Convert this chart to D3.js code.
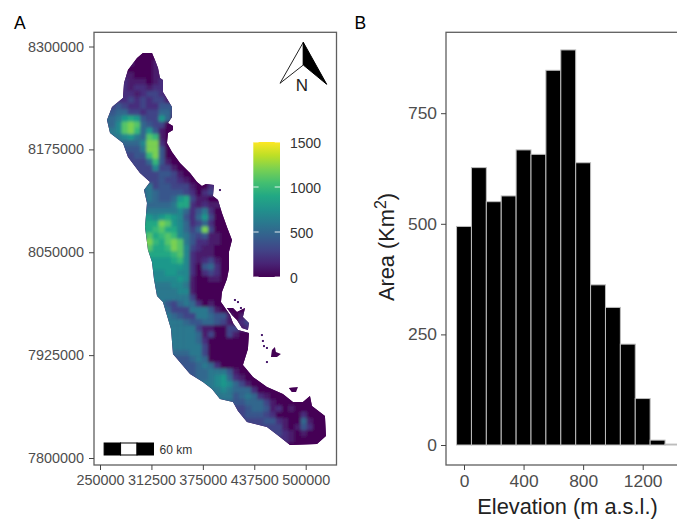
<!DOCTYPE html>
<html>
<head>
<meta charset="utf-8">
<script src="https://cdn.jsdelivr.net/npm/d3@7"></script>
<style>
  html, body { margin: 0; padding: 0; background: #fff; overflow: hidden; }
  text { font-family: "Liberation Sans", Arial, sans-serif; }
</style>
</head>
<body>
<div id="chart"></div>
<script>
// Panel B: histogram of elevation
const binCentres = [0, 100, 200, 300, 400, 500, 600, 700, 800, 900, 1000, 1100, 1200, 1300, 1400];
const binAreas = [494, 627, 550, 563, 667, 657, 847, 893, 638, 362, 311, 228, 105, 11, 2];
const elevationTicks = [0, 400, 800, 1200];
const areaTicks = [0, 250, 500, 750];

// Panel A: axis ticks and legend
const eastingTicks = [250000, 312500, 375000, 437500, 500000];
const northingTicks = [7800000, 7925000, 8050000, 8175000, 8300000];
const legendTicks = [0, 500, 1000, 1500];
const scaleBarKm = [0, 20, 40, 60];

// Panel A: elevation raster, 7.5 km cells, one hex digit per cell = hundreds of metres.
// Row i sits at rasterTopKm - 7.5 * i, first cell at column rowStart[i]. Km are
// counted east of 250000 and north of 7800000.
const rasterTopKm = 495;
const rasterCellKm = 7.5;
const rowStart = [7, 6, 5, 5, 4, 4, 4, 4, 3, 2, 2, 1, 1, 1, 2, 3, 4, 4, 5, 6, 7, 8, 7, 7, 7, 7, 7, 7, 7, 7, 7, 7, 7, 8, 8, 8, 9, 9, 9, 9, 10, 10, 10, 11, 11, 11, 12, 12, 12, 12, 12, 13, 14, 15, 16, 18, 19, 21, 22, 23, 24, 26, 28, 30, 30];
const rowElevation = [
  "00", "0000", "10001", "00001", "1100011", "2111012", "2122122", "22123321",
  "223232331", "3432232244", "45533233552", "556898433851", "557bcb543300", "667bca584100",
  "667865ba10", "55557cc20", "4446cc40", "3344ac400", "3335a4100", "333733100", "333443100",
  "334332100", "663443331002", "565444432023", "565445893110", "555556992121", "6666667524620",
  "8878987425830", "999cb875235200", "99ab997535c300", "9b9aba764341100",
  "bca9bcb64221100", "ab99acb73211000", "9999ab72111000", "88889a72123100", "88888872045200",
  "7788772023200", "7777871001100", "6667761000000", "666677100000", "66666300000",
  "64356520100", "653336664100000", "65433665441013", "66654455431023", "66666311003312",
  "6666513003100", "6666520000000", "6666630000000", "5556630000000", "444565000000",
  "44456520000", "44556664100", "45567852100", "56678753100", "66765552000", "6664565210000",
  "54455531000000", "33455412010000", "34443200002000", "33344210051000", "333310142000",
  "332101000", "2100000", "100000"
];

// Coast outline and islands, km east of 250000 / north of 7800000
const coastEast = [52.2, 63.2, 66.8, 70.5, 72.9, 76.5, 76.5, 80.2, 87.5, 87.5, 82.6, 88.7, 88.7, 82.6, 81.4, 87.5, 97.2, 109.4, 117.9, 123.9, 128.8, 138.5, 137.3, 143.4, 148.2, 154.3, 160.4, 156.7, 156.7, 154.3, 148.2, 147, 158, 161.6, 167.7, 181, 179.8, 173.7, 185.9, 202.9, 222.3, 234.5, 246.6, 255.2, 257.6, 273.4, 274.6, 263.7, 230.9, 218.7, 202.9, 178.6, 167.7, 161.6, 145.8, 136.1, 125.1, 109.4, 88.7, 86.3, 76.5, 69.3, 65.6, 63.2, 58.3, 54.7, 57.1, 53.5, 60.8, 48.6, 34, 27.9, 12.2, 8.5, 14.6, 27.9, 29.2, 34, 45];
const coastNorth = [492, 492, 483.6, 473.9, 461.7, 459.3, 444.7, 438.6, 426.5, 414.3, 407, 403.4, 398.5, 394.9, 382.7, 371.8, 358.4, 346.3, 335.3, 330.5, 332.9, 331.7, 318.3, 313.5, 297.7, 280.7, 264.9, 250.3, 229.6, 217.5, 201.7, 189.5, 173.7, 164, 155.5, 151.9, 132.4, 113, 98.4, 86.3, 77.8, 68, 68, 75.3, 63.2, 51, 26.7, 17, 15.8, 25.5, 37.7, 43.7, 57.1, 68, 71.7, 83.8, 92.3, 102.1, 126.4, 156.7, 189.5, 196.8, 217.5, 238.1, 252.7, 280.7, 309.8, 325.6, 335.3, 346.3, 365.7, 382.7, 394.9, 410.7, 426.5, 437.4, 455.6, 471.4, 486];
const islands = [
  [[154.3, 182.3], [161.6, 182.3], [166.5, 177.4], [176.2, 182.3], [173.7, 171.3], [181, 164], [179.8, 155.5], [172.5, 158], [166.5, 167.7], [160.4, 173.7]],
  [[209, 131.2], [212.6, 134.9], [213.8, 128.8], [219.9, 126.4], [215.1, 122.8], [207.8, 122.8]],
  [[229.6, 85], [240.6, 86.3], [238.2, 80.2], [233.3, 80.2]]
];
const islets = [[196.8, 149.4], [198, 142.2], [199.3, 136], [202.9, 133.7], [202.9, 116.6], [164, 192], [167.7, 189.5], [171.3, 182.3], [145.8, 325.6], [143.4, 302.5]];

const width = 677;
const height = 519;
const tickColor = "#4d4d4d";
const borderColor = "#5f5f5f";

const svg = d3.select("#chart").append("svg").attr("width", width).attr("height", height);
const defs = svg.append("defs");

const panelA = { left: 94, right: 336.5, top: 32.3, bottom: 465 };
const panelB = { left: 446, right: 700, top: 32.3, bottom: 465 };

const xMap = d3.scaleLinear().domain([250000, 500000]).range([100, 305.7]);
const yMap = d3.scaleLinear().domain([7800000, 8300000]).range([458, 46.5]);
const kmX = (km) => xMap(250000 + km * 1000);
const kmY = (km) => yMap(7800000 + km * 1000);
const elevationColor = d3.scaleSequential(d3.interpolateViridis).domain([0, 1500]);

// Raster cells, edges padded so the blur does not fade at the coast
const cells = [];
rowElevation.forEach((row, i) => {
  const values = row.split("").map((c) => parseInt(c, 16) * 100);
  const padded = [values[0], values[0], values[0], ...values, values[values.length - 1], values[values.length - 1], values[values.length - 1]];
  padded.forEach((value, j) => {
    cells.push({ col: rowStart[i] + j - 3, row: i, value });
  });
});

const outlinePath = d3.line().x((d) => kmX(d[0])).y((d) => kmY(d[1])).curve(d3.curveLinearClosed);
const coast = coastEast.map((e, i) => [e, coastNorth[i]]);
const landPaths = [coast, ...islands].map(outlinePath);

defs.append("clipPath").attr("id", "land").append("path").attr("d", landPaths.join(""));
const blur = defs.append("filter").attr("id", "soften").attr("x", "-5%").attr("y", "-5%").attr("width", "110%").attr("height", "110%");
blur.append("feGaussianBlur").attr("stdDeviation", 1.7);

const mapGroup = svg.append("g");
mapGroup.selectAll("path.land").data(landPaths).join("path").attr("class", "land").attr("d", (d) => d).attr("fill", elevationColor(0));
mapGroup.selectAll("rect.islet").data(islets).join("rect").attr("class", "islet")
  .attr("x", (d) => kmX(d[0]) - 1).attr("y", (d) => kmY(d[1]) - 1)
  .attr("width", 2).attr("height", 2).attr("fill", elevationColor(100));

mapGroup.append("g").attr("clip-path", "url(#land)")
  .append("g").attr("filter", "url(#soften)")
  .selectAll("rect").data(cells).join("rect")
  .attr("x", (d) => kmX((d.col - 0.5) * rasterCellKm))
  .attr("y", (d) => kmY(rasterTopKm - (d.row - 0.5) * rasterCellKm))
  .attr("width", kmX(rasterCellKm) - kmX(0) + 0.5)
  .attr("height", kmY(0) - kmY(rasterCellKm) + 0.5)
  .attr("fill", (d) => elevationColor(d.value));

// Colour bar
const legendY = d3.scaleLinear().domain([0, 1500]).range([277, 142]);
const gradient = defs.append("linearGradient").attr("id", "viridisBar").attr("x1", 0).attr("x2", 0).attr("y1", 1).attr("y2", 0);
d3.range(0, 1.001, 0.1).forEach((t) => {
  gradient.append("stop").attr("offset", t).attr("stop-color", d3.interpolateViridis(t));
});
svg.append("rect").attr("x", 253.3).attr("y", legendY(1500)).attr("width", 26.7)
  .attr("height", legendY(0) - legendY(1500)).attr("fill", "url(#viridisBar)");
const legendMarks = svg.append("g").selectAll("g").data(legendTicks).join("g");
legendMarks.append("line").attr("x1", 253.3).attr("x2", 258.6).attr("y1", legendY).attr("y2", legendY).attr("stroke", "#fff").attr("stroke-opacity", 0.85);
legendMarks.append("line").attr("x1", 274.7).attr("x2", 280).attr("y1", legendY).attr("y2", legendY).attr("stroke", "#fff").attr("stroke-opacity", 0.85);
legendMarks.append("text").attr("x", 290).attr("y", (d) => legendY(d) + 1).attr("dy", "0.35em")
  .attr("font-size", 14).attr("fill", "#333").text((d) => d);

// Scale bar
const barStart = 255000;
svg.append("g").selectAll("rect").data(d3.pairs(scaleBarKm)).join("rect")
  .attr("x", (d) => xMap(barStart + d[0] * 1000))
  .attr("y", 443)
  .attr("width", (d) => xMap(barStart + d[1] * 1000) - xMap(barStart + d[0] * 1000))
  .attr("height", 12)
  .attr("fill", (d, i) => (i === 1 ? "#fff" : "#000"))
  .attr("stroke", "#000")
  .attr("stroke-width", 1);
svg.append("text").attr("x", 159.5).attr("y", 449.5).attr("dy", "0.35em").attr("font-size", 12).attr("fill", "#333").text("60 km");

// North arrow
const arrow = svg.append("g");
arrow.append("path").attr("d", "M303.3,42.3 L280,83.3 L303.3,65 Z").attr("fill", "#fff").attr("stroke", "#222").attr("stroke-width", 1);
arrow.append("path").attr("d", "M303.3,42.3 L326.7,84.3 L303.3,65 Z").attr("fill", "#000").attr("stroke", "#000").attr("stroke-width", 1);
arrow.append("text").attr("x", 301.8).attr("y", 91).attr("text-anchor", "middle").attr("font-size", 17).attr("fill", "#222").text("N");

// Panel B bars
const xHist = d3.scaleLinear().domain([0, 1200]).range([464, 642.7]);
const yHist = d3.scaleLinear().domain([0, 750]).range([445, 113.2]);
const binWidth = xHist(100) - xHist(0);
svg.append("g").selectAll("rect").data(binCentres).join("rect")
  .attr("x", (d) => xHist(d) - binWidth / 2)
  .attr("y", (d, i) => yHist(binAreas[i]))
  .attr("width", binWidth)
  .attr("height", (d, i) => yHist(0) - yHist(binAreas[i]))
  .attr("fill", "#000")
  .attr("stroke", "#bdbdbd")
  .attr("stroke-width", 1);

// Panel borders
[panelA, panelB].forEach((p) => {
  svg.append("rect").attr("x", p.left).attr("y", p.top).attr("width", p.right - p.left).attr("height", p.bottom - p.top)
    .attr("fill", "none").attr("stroke", borderColor).attr("stroke-width", 1.3);
});

// Axes
function styleAxis(g, size) {
  g.select(".domain").remove();
  g.selectAll(".tick line").attr("stroke", "#444").attr("stroke-width", 1);
  g.selectAll(".tick text").attr("fill", tickColor).attr("font-size", size).attr("font-family", '"Liberation Sans", Arial, sans-serif');
}

svg.append("g").attr("transform", `translate(${panelA.left},0)`)
  .call(d3.axisLeft(yMap).tickValues(northingTicks).tickSize(5).tickPadding(5).tickFormat(d3.format("d")))
  .call(styleAxis, 14.4);
svg.append("g").attr("transform", `translate(0,${panelA.bottom})`)
  .call(d3.axisBottom(xMap).tickValues(eastingTicks).tickSize(5).tickPadding(5).tickFormat(d3.format("d")))
  .call(styleAxis, 14.4);
svg.append("g").attr("transform", `translate(${panelB.left},0)`)
  .call(d3.axisLeft(yHist).tickValues(areaTicks).tickSize(5).tickPadding(4).tickFormat(d3.format("d")))
  .call(styleAxis, 17.4);
svg.append("g").attr("transform", `translate(0,${panelB.bottom})`)
  .call(d3.axisBottom(xHist).tickValues(elevationTicks).tickSize(5).tickPadding(5).tickFormat(d3.format("d")))
  .call(styleAxis, 17.4);

// Titles
svg.append("text").attr("x", 567.5).attr("y", 514).attr("text-anchor", "middle").attr("font-size", 21.8).attr("fill", "#222").text("Elevation (m a.s.l.)");
const areaTitle = svg.append("text").attr("transform", "translate(394,247) rotate(-90)")
  .attr("text-anchor", "middle").attr("font-size", 21.8).attr("fill", "#222");
areaTitle.append("tspan").text("Area (Km");
areaTitle.append("tspan").attr("dy", -8).attr("font-size", 16).text("2");
areaTitle.append("tspan").attr("dy", 8).text(")");

svg.append("text").attr("x", 14).attr("y", 29).attr("font-size", 17.5).attr("fill", "#000").text("A");
svg.append("text").attr("x", 354.5).attr("y", 29).attr("font-size", 17.5).attr("fill", "#000").text("B");
</script>
</body>
</html>
